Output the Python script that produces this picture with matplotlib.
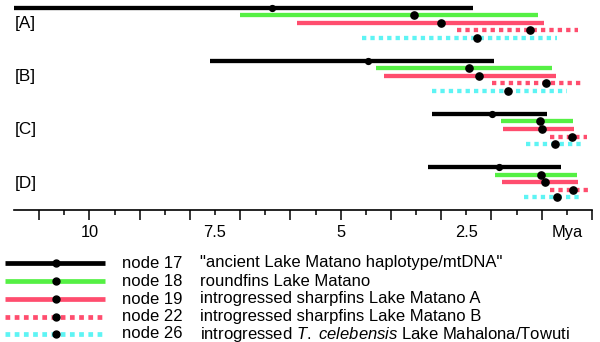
import matplotlib
matplotlib.use("Agg")
import matplotlib.pyplot as plt
import matplotlib.transforms as mtransforms

plt.rcParams['font.family'] = ['Liberation Sans', 'DejaVu Sans']
plt.rcParams['mathtext.fontset'] = 'custom'
plt.rcParams['mathtext.it'] = 'Liberation Sans:italic'
plt.rcParams['mathtext.rm'] = 'Liberation Sans'

# ---- data (Mya) ----
groups = ["[A]", "[B]", "[C]", "[D]"]
nodes = ["node 17", "node 18", "node 19", "node 22", "node 26"]
descriptions = ['"ancient Lake Matano haplotype/mtDNA"',
                "roundfins Lake Matano",
                "introgressed sharpfins Lake Matano A",
                "introgressed sharpfins Lake Matano B",
                r"introgressed $\it{T.}$ $\it{celebensis}$ Lake Mahalona/Towuti"]
colors = ["#000000", "#55f044", "#ff4d6e", "#ff4d6e", "#5ef4f4"]
styles = ["solid", "solid", "solid", "dotted", "dotted"]

# per group: [node17, node18, node19, node22, node26]
lower = [
    [11.5, 7.01, 5.86, 2.69, 4.57],
    [7.61, 4.30, 4.14, 1.99, 3.19],
    [3.19, 1.82, 1.78, 0.84, 1.31],
    [3.27, 1.93, 1.79, 0.84, 1.35],
]
upper = [
    [2.37, 1.08, 0.96, 0.28, 0.70],
    [1.95, 0.80, 0.72, 0.16, 0.50],
    [0.90, 0.38, 0.36, 0.09, 0.22],
    [0.62, 0.30, 0.27, 0.06, 0.22],
]
means = [
    [6.37, 3.55, 3.01, 1.24, 2.28],
    [4.45, 2.45, 2.24, 0.92, 1.68],
    [1.98, 1.04, 0.99, 0.40, 0.73],
    [1.86, 1.01, 0.94, 0.37, 0.70],
]

tick_labels_pos = [10, 7.5, 5, 2.5, 0.5]
tick_labels_txt = ["10", "7.5", "5", "2.5", "Mya"]

W, H = 600, 342
fig = plt.figure(figsize=(W / 100, H / 100), dpi=100)

# main axes: x from px 14 to 592, y from px 0 to 210
ax = fig.add_axes([14 / W, 1 - 210 / H, (592 - 14) / W, 210 / H])
ax.set_xlim(11.5, 0)
ax.set_ylim(26.65, -0.99)

LW = 3.1
dash = (0, (1.0, 0.95))
blend = mtransforms.blended_transform_factory(ax.transAxes, ax.transData)
for g in range(len(groups)):
    for r in range(len(nodes)):
        y = g * 7 + r
        ls = '-' if styles[r] == 'solid' else dash
        ax.plot([lower[g][r], upper[g][r]], [y, y], color=colors[r], lw=LW,
                linestyle=ls, solid_capstyle='butt', dash_capstyle='butt', zorder=2)
        ax.plot([means[g][r]], [y], 'o', color='black', ms=5.2 if r else 4.2,
                mec='black', zorder=3)
    ax.text(0.0015, g * 7 + 2.1, groups[g], transform=blend,
            ha='left', va='center', fontsize=12.3)

for s in ['top', 'left', 'right']:
    ax.spines[s].set_visible(False)
ax.spines['bottom'].set_linewidth(1.2)
ax.set_yticks([])

majors = list(range(0, 12))
minors = [m + 0.5 for m in range(0, 11)]
ax.set_xticks(majors, labels=[tick_labels_txt[tick_labels_pos.index(m)] if m in tick_labels_pos else ""
                              for m in majors])
ax.set_xticks(minors, labels=[tick_labels_txt[tick_labels_pos.index(m)] if m in tick_labels_pos else ""
                              for m in minors], minor=True)
ax.tick_params(axis='x', which='major', length=7.2, width=1.1, pad=3.8, labelsize=11.8)
ax.tick_params(axis='x', which='minor', length=3.6, width=1.1, pad=3.8 + 3.6, labelsize=11.8)

# legend axes in pixel units
lax = fig.add_axes([0, 0, 1, 92 / H])
lax.set_xlim(0, W)
lax.set_ylim(H, 250)
lax.axis('off')
row_y = [263, 281, 299, 316.5, 334]
for i in range(len(nodes)):
    ls = '-' if styles[i] == 'solid' else dash
    lax.plot([5, 105], [row_y[i], row_y[i]], color=colors[i], lw=3.4, linestyle=ls,
             solid_capstyle='butt', dash_capstyle='butt')
    lax.plot([56], [row_y[i]], 'o', color='black', ms=5)
    lax.text(122, row_y[i], nodes[i], ha='left', va='center', fontsize=12)
    lax.text(200, row_y[i], descriptions[i], ha='left', va='center', fontsize=12)

fig.savefig("out.png", dpi=100)
